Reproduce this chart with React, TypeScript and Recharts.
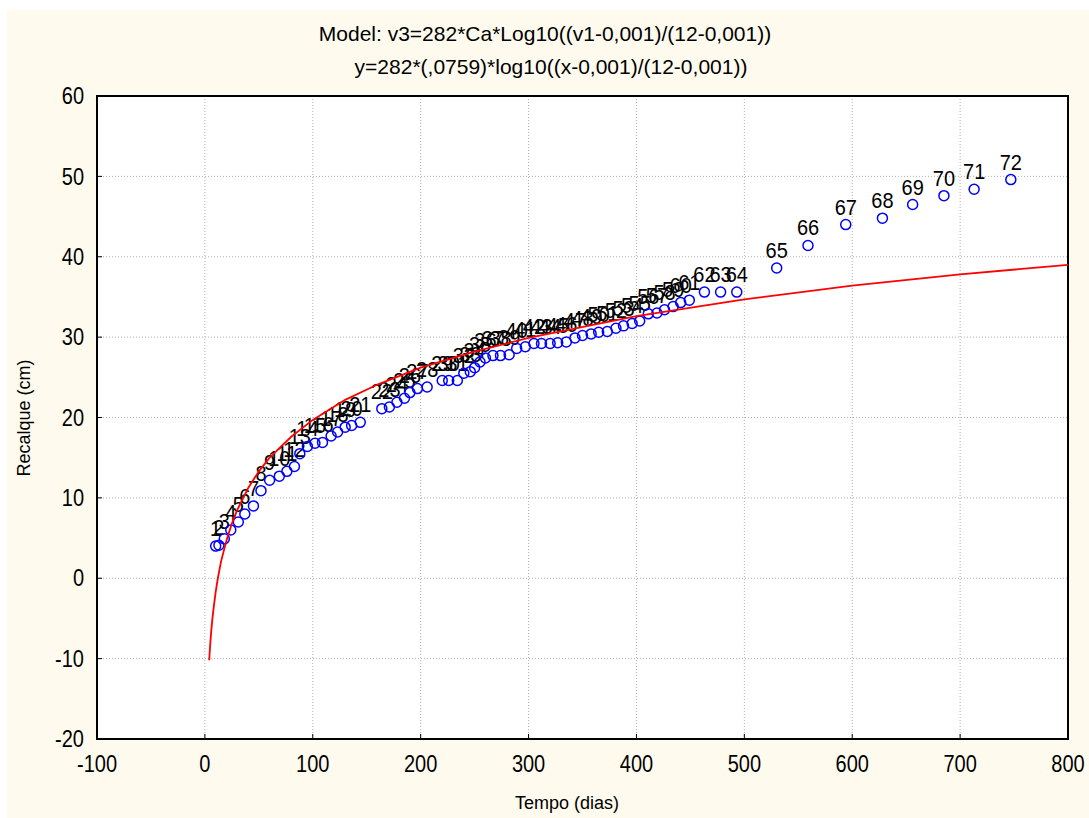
import React from "react";
import { ComposedChart, Scatter, XAxis, YAxis, CartesianGrid, ReferenceArea } from "recharts";

// measured points (days vs settlement in cm), numbered 1..72 in order
const dayValues = [
  10, 13, 18, 24, 31, 37, 45, 52, 60, 69, 76, 83,
  88, 95, 102, 109, 117, 123, 130, 136, 144,
  164, 171, 178, 185, 190, 197, 206, 220, 226, 234, 240, 246, 250, 255, 260, 267,
  274, 282, 289, 297, 305, 312, 320, 327, 335, 343, 350, 358, 365, 373, 381, 388,
  396, 403, 411, 419, 426, 434, 441, 449,
  463, 478, 493, 530, 559, 594, 628, 656, 685, 713, 747,
];
const recalqueValues = [
  4.0, 4.1, 4.9, 6.0, 7.0, 8.0, 9.0, 10.9, 12.2, 12.7, 13.3, 13.9,
  15.5, 16.4, 16.8, 16.9, 17.7, 18.2, 18.8, 19.0, 19.4,
  21.1, 21.3, 21.9, 22.4, 23.1, 23.6, 23.8, 24.6, 24.6, 24.6, 25.5, 25.7, 26.2, 26.9, 27.4, 27.7,
  27.7, 27.8, 28.6, 28.8, 29.2, 29.2, 29.2, 29.3, 29.4, 29.9, 30.2, 30.4, 30.6, 30.7, 31.1, 31.4,
  31.7, 32.0, 32.9, 33.0, 33.4, 33.8, 34.3, 34.6,
  35.6, 35.6, 35.6, 38.6, 41.4, 44.0, 44.8, 46.5, 47.6, 48.4, 49.6,
];
const pointLabels = dayValues.map((_, i) => String(i + 1));

// fitted curve
const curveDays = [4, 4.5, 5, 6, 7, 8, 10, 12, 15, 20, 25, 30, 40, 50, 60, 80, 100, 130, 160, 200, 250, 300, 400, 500, 600, 700, 800];
const curveValues = [-10.2, -9.1, -8.1, -6.4, -5.0, -3.8, -1.7, 0, 2.1, 4.7, 6.8, 8.5, 11.2, 13.3, 15.0, 17.6, 19.7, 22.2, 24.1, 26.2, 28.2, 29.9, 32.6, 34.7, 36.4, 37.8, 39.0];

const xTicks = [-100, 0, 100, 200, 300, 400, 500, 600, 700, 800];
const yTicks = [-20, -10, 0, 10, 20, 30, 40, 50, 60];

const FONT = "'Liberation Sans', Arial, sans-serif";

const points = dayValues.map((d, i) => ({ x: d, y: recalqueValues[i], label: pointLabels[i] }));
const curve = curveDays.map((d, i) => ({ x: d, y: curveValues[i] }));

const PointShape = (props: any) => {
  const { cx, cy, payload } = props;
  return (
    <g>
      <circle cx={cx} cy={cy} r={5} fill="none" stroke="#0000ff" strokeWidth={1.5} />
      <text
        transform={`translate(${cx},${cy - 10}) scale(1,1.12)`}
        textAnchor="middle" fontSize={20} fontFamily={FONT} fill="#000"
      >
        {payload.label}
      </text>
    </g>
  );
};

const NoShape = () => <g />;

const XTick = (props: any) => {
  const { x, y, payload } = props;
  return (
    <text transform={`translate(${x},${y}) scale(1,1.15)`} textAnchor="middle" dy="0.71em"
      fontSize={20} fontFamily={FONT} fill="#000">
      {payload.value}
    </text>
  );
};

const YTick = (props: any) => {
  const { x, y, payload } = props;
  return (
    <text transform={`translate(${x},${y}) scale(1,1.15)`} textAnchor="end" dy="0.355em"
      fontSize={20} fontFamily={FONT} fill="#000">
      {payload.value}
    </text>
  );
};

export default function App() {
  return (
    <div style={{ position: "absolute", left: 0, top: 0, width: 1089, height: 818, background: "#fff" }}>
      <div style={{ position: "absolute", left: 7, top: 10, right: 0, bottom: 0, background: "#fefbee" }} />
      <div style={{ position: "absolute", left: 0, top: 0 }}>
        <ComposedChart width={1089} height={818} margin={{ top: 96, right: 21, bottom: 0, left: 0 }}>
          <CartesianGrid stroke="#b0b0b0" strokeDasharray="1 2" fill="#fff" />
          <XAxis
            type="number" dataKey="x" domain={[-100, 800]} ticks={xTicks} allowDataOverflow
            height={79} tickSize={-5} tickMargin={22}
            axisLine={{ stroke: "#000", strokeWidth: 1.5 }} tickLine={{ stroke: "#000" }} tick={<XTick />}
          />
          <YAxis
            type="number" dataKey="y" domain={[-20, 60]} ticks={yTicks} allowDataOverflow
            width={97} tickSize={-5} tickMargin={18}
            axisLine={{ stroke: "#000", strokeWidth: 1.5 }} tickLine={{ stroke: "#000" }} tick={<YTick />}
          />
          <ReferenceArea x1={-100} x2={800} y1={-20} y2={60} fill="none" fillOpacity={0} stroke="#000" strokeWidth={2} />
          <Scatter data={points} shape={<PointShape />} isAnimationActive={false} />
          <Scatter
            data={curve} shape={<NoShape />} line={{ stroke: "#ff0000", strokeWidth: 1.8 }}
            lineType="joint" isAnimationActive={false}
          />
        </ComposedChart>
      </div>
      <svg width={1089} height={818} style={{ position: "absolute", left: 0, top: 0, pointerEvents: "none" }}>
        <text x={545} y={41} textAnchor="middle" fontSize={21} fontFamily={FONT} fill="#000">
          Model: v3=282*Ca*Log10((v1-0,001)/(12-0,001))
        </text>
        <text x={551} y={74} textAnchor="middle" fontSize={21} fontFamily={FONT} fill="#000">
          y=282*(,0759)*log10((x-0,001)/(12-0,001))
        </text>
        <text x={567} y={809} textAnchor="middle" fontSize={18} fontFamily={FONT} fill="#000">
          Tempo (dias)
        </text>
        <text x={30} y={418} textAnchor="middle" fontSize={18} fontFamily={FONT} fill="#000" transform="rotate(-90 30 418)">
          Recalque (cm)
        </text>
      </svg>
    </div>
  );
}
